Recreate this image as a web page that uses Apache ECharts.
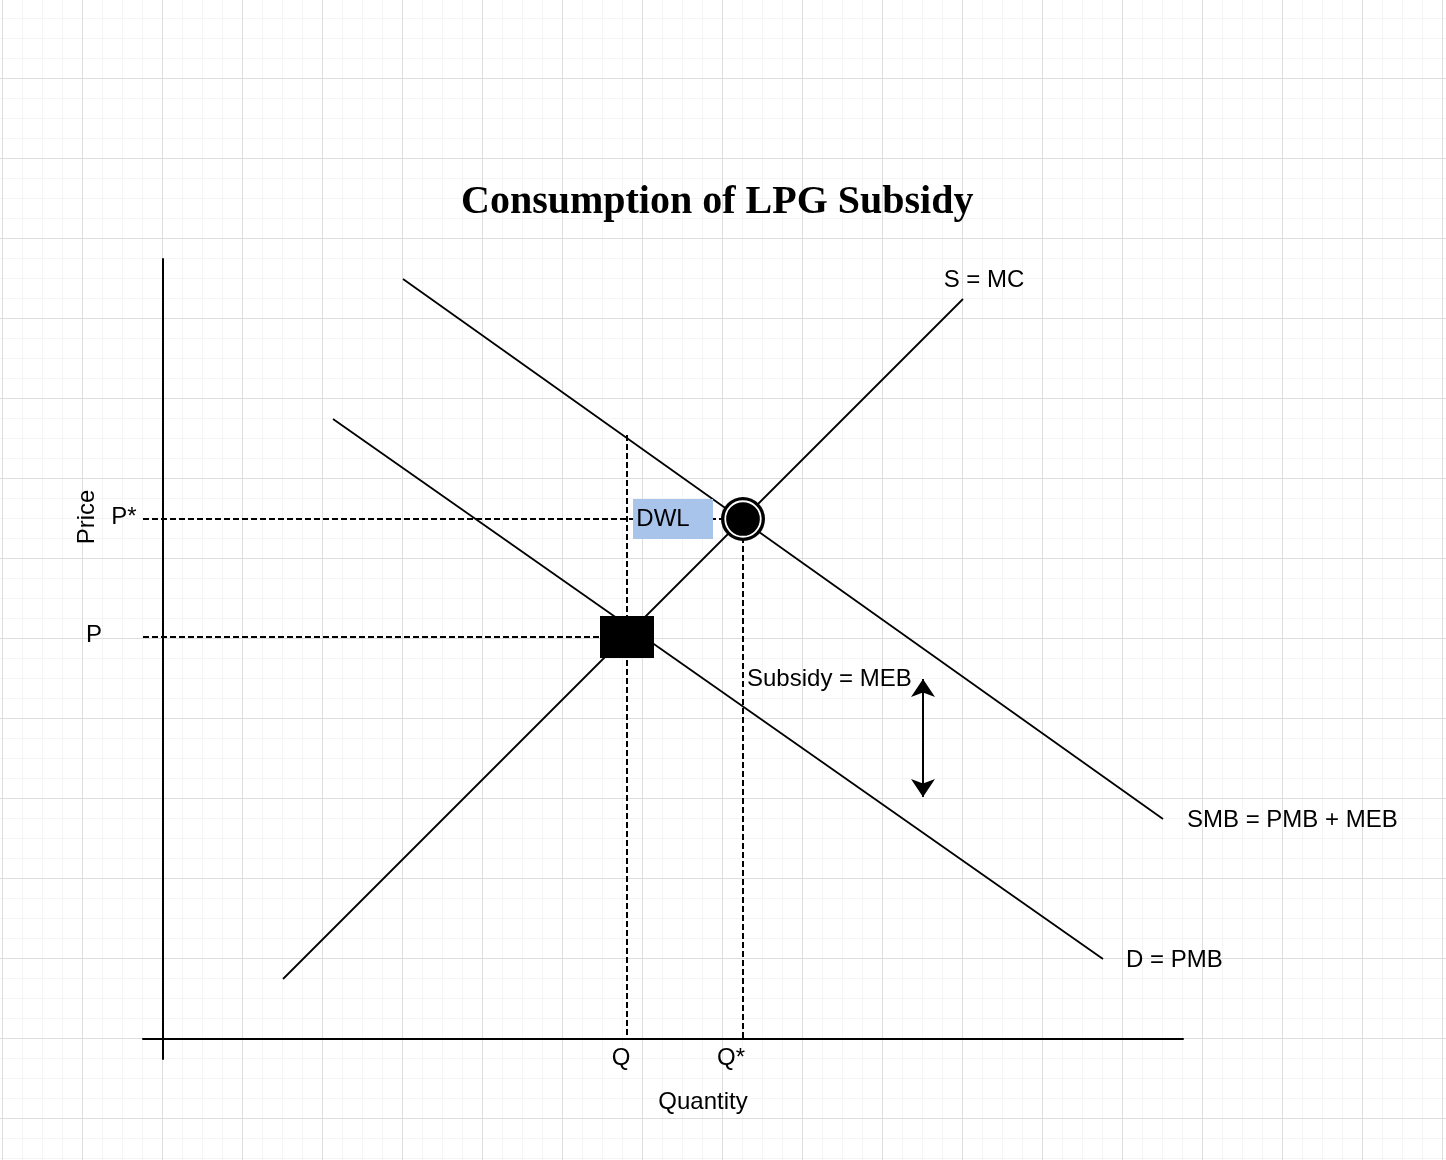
<!DOCTYPE html>
<html>
<head>
<meta charset="utf-8">
<script src="https://cdn.jsdelivr.net/npm/echarts@6/dist/echarts.min.js"></script>
<style>
html, body { margin: 0; padding: 0; }
body {
  width: 1446px; height: 1160px; overflow: hidden;
  background-color: #ffffff;
  background-image:
    linear-gradient(to right, #dedede 1px, transparent 1px),
    linear-gradient(to bottom, #dedede 1px, transparent 1px),
    linear-gradient(to right, #f5f5f5 1px, transparent 1px),
    linear-gradient(to bottom, #f5f5f5 1px, transparent 1px);
  background-size: 80px 80px, 80px 80px, 20px 20px, 20px 20px;
  background-position: 2px 0, 0 78px, 2px 0, 0 18px;
}
#chart { position: absolute; left: 0; top: 0; width: 1446px; height: 1160px; }
</style>
</head>
<body>
<div id="chart"></div>
<script>
// ---- Data (quantity / price units) ----
const titleText = 'Consumption of LPG Subsidy';
const curveNames = ['S = MC', 'SMB = PMB + MEB', 'D = PMB'];
const supplyQ = [6, 40];
const supplyP = [3, 37];
const smbQ = [12, 50];
const smbP = [38, 11];
const demandQ = [8.5, 47];
const demandP = [31, 4];
const quantityLabels = ['Q', 'Q*'];
const quantityValues = [23.2, 29];
const priceLabels = ['P*', 'P'];
const priceValues = [26, 20.1];
const qDashTop = 30.2;          // top of the dashed line at Q
const dwlPoint = [25.5, 26];    // DWL box
const subsidyArrowQ = 38;
const subsidyArrowP = [18, 12.1];
const subsidyText = 'Subsidy = MEB';
const subsidyLabelPoint = [29.2, 18];
const axisMin = -1;

const FONT = 'Liberation Sans, Arial, Helvetica, sans-serif';
const chart = echarts.init(document.getElementById('chart'), null, { renderer: 'canvas' });

const pair = (xs, ys) => xs.map((x, i) => [x, ys[i]]);
const black = '#000000';

function solidLine(name, data) {
  return {
    type: 'line', name, data, showSymbol: false, symbol: 'none', silent: true,
    lineStyle: { color: black, width: 1.8, opacity: 1 }, z: 3, animation: false
  };
}
function dashedLine(data) {
  return {
    type: 'line', data, showSymbol: false, symbol: 'none', silent: true,
    lineStyle: { color: black, width: 2, type: [6, 3], opacity: 1 }, z: 2, animation: false
  };
}
function textAt(point, text, align, offset) {
  return {
    value: point,
    label: { show: true, formatter: text, position: 'inside', align: align, verticalAlign: 'middle',
      offset: offset, fontFamily: FONT, fontSize: 24, color: black }
  };
}

const Q = quantityValues[0], Qs = quantityValues[1];
const Ps = priceValues[0], P = priceValues[1];

const option = {
  backgroundColor: 'transparent',
  animation: false,
  title: {
    text: titleText,
    left: 456, top: 178,
    textStyle: { fontFamily: 'Liberation Serif, Times New Roman, serif', fontWeight: 'bold', fontSize: 40, color: black }
  },
  grid: { left: 143, top: 259, width: 1040, height: 800 },
  xAxis: {
    type: 'value', min: axisMin, max: 51,
    name: 'Quantity', nameLocation: 'middle', nameGap: 31,
    nameTextStyle: { fontFamily: FONT, fontSize: 24, color: black, padding: [0, 0, 0, 80] },
    axisLine: { show: true, onZero: true, lineStyle: { color: black, width: 2 } },
    axisTick: { show: false }, axisLabel: { show: false }, splitLine: { show: false }
  },
  yAxis: {
    type: 'value', min: axisMin, max: 39,
    name: 'Price', nameLocation: 'middle', nameGap: 44, nameRotate: 90,
    nameTextStyle: { fontFamily: FONT, fontSize: 24, color: black, padding: [0, 0, 0, 284] },
    axisLine: { show: true, onZero: true, lineStyle: { color: black, width: 2 } },
    axisTick: { show: false }, axisLabel: { show: false }, splitLine: { show: false }
  },
  series: [
    dashedLine([[axisMin, Ps], [Qs, Ps]]),
    dashedLine([[axisMin, P], [Q, P]]),
    dashedLine([[Q, qDashTop], [Q, 0]]),
    dashedLine([[Qs, Ps], [Qs, 0]]),
    solidLine(curveNames[0], pair(supplyQ, supplyP)),
    solidLine(curveNames[1], pair(smbQ, smbP)),
    solidLine(curveNames[2], pair(demandQ, demandP)),
    {
      type: 'scatter', silent: true, z: 4,
      symbol: 'rect', symbolSize: [80, 40],
      itemStyle: { color: '#A9C4EB', opacity: 1 },
      data: [{ value: dwlPoint, label: { show: true, formatter: 'DWL', position: 'inside', offset: [-10, 0],
        fontFamily: FONT, fontSize: 24, color: black } }]
    },
    {
      type: 'scatter', silent: true, z: 6,
      symbol: 'rect', symbolSize: [54, 42],
      itemStyle: { color: black, opacity: 1 },
      data: [[Q, P]]
    },
    {
      type: 'scatter', silent: true, z: 6,
      symbol: 'circle', symbolSize: 44,
      itemStyle: { color: black, opacity: 1 },
      data: [[Qs, Ps]]
    },
    {
      type: 'scatter', silent: true, z: 7,
      symbol: 'circle', symbolSize: 35.5,
      itemStyle: { color: black, borderColor: '#ffffff', borderWidth: 1.8, opacity: 1 },
      data: [[Qs, Ps]]
    },
    {
      type: 'lines', coordinateSystem: 'cartesian2d', silent: true, z: 5,
      symbol: ['arrow', 'arrow'], symbolSize: 18,
      lineStyle: { color: black, width: 2, opacity: 1 },
      data: [{ coords: [[subsidyArrowQ, subsidyArrowP[0]], [subsidyArrowQ, subsidyArrowP[1]]] }]
    },
    {
      type: 'scatter', silent: true, z: 8,
      symbolSize: 1, itemStyle: { color: 'rgba(0,0,0,0)', opacity: 1 },
      data: [
        textAt([supplyQ[1], supplyP[1]], curveNames[0], 'center', [21, -19]),
        textAt([smbQ[1], smbP[1]], curveNames[1], 'left', [24, 1]),
        textAt([demandQ[1], demandP[1]], curveNames[2], 'left', [23, 1]),
        textAt(subsidyLabelPoint, subsidyText, 'left', [0, 0]),
        textAt([0, Ps], priceLabels[0], 'center', [-39, -2]),
        textAt([0, P], priceLabels[1], 'center', [-69, -2]),
        textAt([Q, 0], quantityLabels[0], 'center', [-6, 19]),
        textAt([Qs, 0], quantityLabels[1], 'center', [-12, 19])
      ]
    }
  ]
};
chart.setOption(option);
</script>
</body>
</html>
